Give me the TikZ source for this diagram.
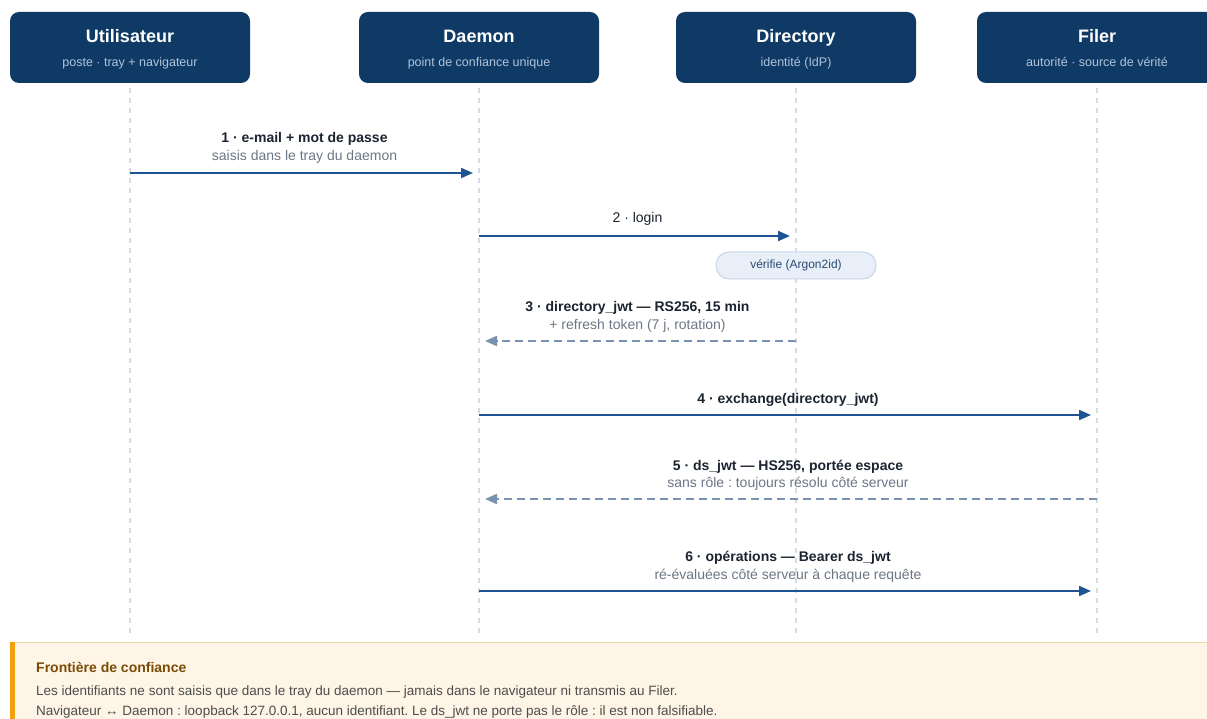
\documentclass[tikz,border=0pt]{standalone}
\usepackage{fontspec}
\setmainfont{Liberation Sans}
\usetikzlibrary{arrows.meta}
\frenchspacing

\definecolor{headC}{HTML}{0F3A66}
\definecolor{headSubC}{HTML}{AFC3DA}
\definecolor{lifeC}{HTML}{D3DBE5}
\definecolor{msgC}{HTML}{1F5493}
\definecolor{replyC}{HTML}{7B92AE}
\definecolor{lblC}{HTML}{1B2430}
\definecolor{subC}{HTML}{6C7785}
\definecolor{pillFillC}{HTML}{E8EFF8}
\definecolor{pillDrawC}{HTML}{C9D7EA}
\definecolor{pillTextC}{HTML}{2A4A70}
\definecolor{footFillC}{HTML}{FEF5E6}
\definecolor{footLineC}{HTML}{F1D9A8}
\definecolor{footBarC}{HTML}{F29F0D}
\definecolor{footTitleC}{HTML}{7A4B05}
\definecolor{footTextC}{HTML}{4D4D4D}

\begin{document}
\begin{tikzpicture}
  [x=1pt,y=-1pt,
   actorN/.style={rectangle,rounded corners=9pt,fill=headC,minimum width=240pt,
                  minimum height=71pt,inner sep=0pt},
   titleN/.style={anchor=base,text=white,font=\fontsize{18}{20}\selectfont\bfseries},
   subtitleN/.style={anchor=base,text=headSubC,font=\fontsize{12.5}{14}\selectfont},
   lifeL/.style={lifeC,line width=1.5pt,dash pattern=on 5pt off 5pt},
   msgA/.style={msgC,line width=2pt,-{Triangle[length=12pt,width=10pt]}},
   replyA/.style={replyC,line width=2pt,dash pattern=on 8pt off 5pt,
                  -{Triangle[length=12pt,width=10pt]}},
   boldN/.style={anchor=base,text=lblC,font=\fontsize{14}{16}\selectfont\bfseries},
   plainN/.style={anchor=base,text=lblC,font=\fontsize{14}{16}\selectfont},
   grayN/.style={anchor=base,text=subC,font=\fontsize{14}{16}\selectfont},
   pillN/.style={rectangle,rounded corners=13pt,fill=pillFillC,draw=pillDrawC,
                 line width=1pt,minimum width=160pt,minimum height=27pt,
                 text=pillTextC,font=\fontsize{12}{14}\selectfont},
   footN/.style={rectangle,fill=footFillC,minimum width=1205pt,minimum height=80pt,
                 inner sep=0pt},
   footTitleN/.style={anchor=base west,inner sep=0pt,text=footTitleC,
                      font=\fontsize{14}{16}\selectfont\bfseries},
   footTextN/.style={anchor=base west,inner sep=0pt,text=footTextC,
                     font=\fontsize{13.5}{15}\selectfont}]

  \clip (0,0) rectangle (1207,719);
  \fill[white] (0,0) rectangle (1207,719);

  % participants
  \node[actorN] (u) at  (130,47.5) {};
  \node[actorN] (d) at  (479,47.5) {};
  \node[actorN] (i) at  (796,47.5) {};
  \node[actorN] (f) at (1097,47.5) {};

  \node[titleN] (ut) at  (130,43) {Utilisateur};
  \node[titleN] (dt) at  (479,43) {Daemon};
  \node[titleN] (it) at  (796,43) {Directory};
  \node[titleN] (ft) at (1097,43) {Filer};

  \node[subtitleN] (us) at  (130,67) {poste · tray + navigateur};
  \node[subtitleN] (ds) at  (479,67) {point de confiance unique};
  \node[subtitleN] (is) at  (796,67) {identité (IdP)};
  \node[subtitleN] (fs) at (1097,67) {autorité · source de vérité};

  % lifelines
  \coordinate (top) at (0,88);
  \coordinate (bot) at (0,636);
  \draw[lifeL] (u |- top) -- (u |- bot);
  \draw[lifeL] (d |- top) -- (d |- bot);
  \draw[lifeL] (i |- top) -- (i |- bot);
  \draw[lifeL] (f |- top) -- (f |- bot);

  % message rows
  \coordinate (r1) at (0,173);
  \coordinate (r2) at (0,236);
  \coordinate (r3) at (0,341);
  \coordinate (r4) at (0,415);
  \coordinate (r5) at (0,499);
  \coordinate (r6) at (0,591);

  \draw[msgA,shorten >=6pt] (u |- r1) -- (d |- r1);
  \node[boldN] (m1) at (304.5,143) {1 · e-mail + mot de passe};
  \node[grayN] (m1s) at (304.5,161) {saisis dans le tray du daemon};

  \draw[msgA,shorten >=6pt] (d |- r2) -- (i |- r2);
  \node[plainN] (m2) at (637.5,223) {2 · login};

  \node[pillN] (chk) at (796,265.5) {vérifie (Argon2id)};

  \draw[replyA,shorten >=6pt] (i |- r3) -- (d |- r3);
  \node[boldN] (m3) at (637.5,311) {3 · directory\_jwt — RS256, 15 min};
  \node[grayN] (m3s) at (637.5,329) {+ refresh token (7 j, rotation)};

  \draw[msgA,shorten >=6pt] (d |- r4) -- (f |- r4);
  \node[boldN] (m4) at (788,403) {4 · exchange(directory\_jwt)};

  \draw[replyA,shorten >=6pt] (f |- r5) -- (d |- r5);
  \node[boldN] (m5) at (788,470) {5 · ds\_jwt — HS256, portée espace};
  \node[grayN] (m5s) at (788,487) {sans rôle : toujours résolu côté serveur};

  \draw[msgA,shorten >=6pt] (d |- r6) -- (f |- r6);
  \node[boldN] (m6) at (788,561) {6 · opérations — Bearer ds\_jwt};
  \node[grayN] (m6s) at (788,579) {ré-évaluées côté serveur à chaque requête};

  % trust boundary
  \node[footN,anchor=north west] (foot) at (10,642) {};
  \draw[footLineC,line width=1pt] (foot.north west) -- (foot.north east);
  \fill[footBarC] (foot.north west) rectangle ([xshift=5pt]foot.south west);

  \node[footTitleN] (ftl) at (36,672) {Frontière de confiance};
  \node[footTextN] (fl1) at (36,695.5) {Les identifiants ne sont saisis que dans le tray du daemon — jamais dans le navigateur ni transmis au Filer.};
  \node[footTextN] (fl2) at (36,715.5) {Navigateur ↔ Daemon : loopback 127.0.0.1, aucun identifiant. Le ds\_jwt ne porte pas le rôle : il est non falsifiable.};
\end{tikzpicture}
\end{document}
